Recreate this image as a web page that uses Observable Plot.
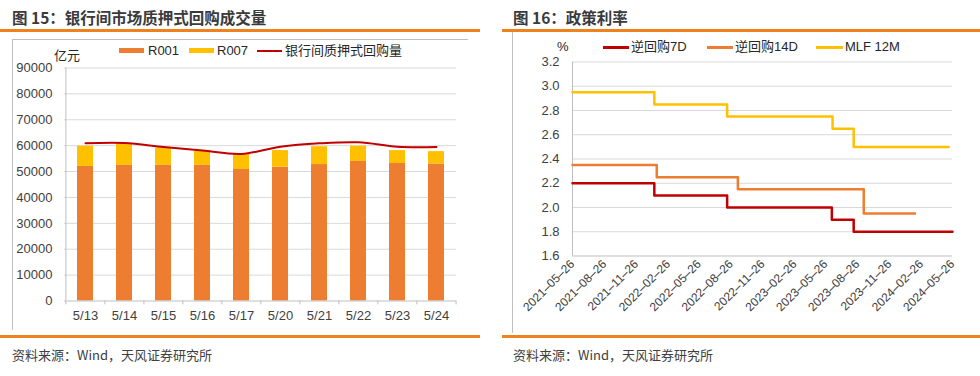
<!DOCTYPE html>
<html><head><meta charset="utf-8">
<script src="https://cdn.jsdelivr.net/npm/d3@7"></script>
<script src="https://cdn.jsdelivr.net/npm/@observablehq/plot@0.6"></script>
<style>
body{margin:0;background:#fff;}
#root{position:relative;width:980px;height:376px;overflow:hidden;font-family:"Liberation Sans",Arial,"Noto Sans CJK SC",sans-serif;color:#404040;}
.abs{position:absolute;white-space:nowrap;}
.title{font-family:"Noto Sans CJK SC",sans-serif;font-weight:bold;font-size:15.5px;color:#3a3a3a;line-height:18px;height:18px;}
.orange{position:absolute;height:2.5px;background:#F0821E;}
.gray{position:absolute;background:#BFBFBF;}
.lg{position:absolute;white-space:nowrap;font-size:13px;line-height:16px;color:#262626;font-family:"Liberation Sans",Arial,"Noto Sans CJK SC",sans-serif;}
.sw{position:absolute;}
.foot{position:absolute;white-space:nowrap;font-family:"Noto Sans CJK SC",sans-serif;font-size:13px;color:#404040;line-height:16px;}
.plot{position:absolute;}
</style></head>
<body><div id="root"></div>
<script>
// ---------- Data: left chart ----------
const days = ["5/13","5/14","5/15","5/16","5/17","5/20","5/21","5/22","5/23","5/24"];
const r001 = [52000,52400,52400,52400,50800,51700,52700,53900,53100,52900];
const r007 = [7800,8300,6700,5700,6000,6400,6900,5900,5000,4800];
const repoTotal = [60900,61000,59500,58100,56800,59600,60900,61300,59600,59500];
const yTicksLeft = [0,10000,20000,30000,40000,50000,60000,70000,80000,90000];

// ---------- Data: right chart ----------
const rr7Dates  = ["2021-05-26","2022-01-17","2022-08-15","2023-06-13","2023-08-15","2024-05-26"];
const rr7Values = [2.20,2.10,2.00,1.90,1.80,1.80];
const rr14Dates  = ["2021-05-26","2022-01-24","2022-09-15","2023-09-13","2024-02-08"];
const rr14Values = [2.35,2.25,2.15,1.95,1.95];
const mlfDates  = ["2021-05-26","2022-01-17","2022-08-15","2023-06-15","2023-08-15","2024-05-15"];
const mlfValues = [2.95,2.85,2.75,2.65,2.50,2.50];
const xTickDates = ["2021-05-26","2021-08-26","2021-11-26","2022-02-26","2022-05-26","2022-08-26","2022-11-26","2023-02-26","2023-05-26","2023-08-26","2023-11-26","2024-02-26","2024-05-26"];
const yTicksRight = [1.6,1.8,2.0,2.2,2.4,2.6,2.8,3.0,3.2];

const root = document.getElementById("root");
function add(html){ root.insertAdjacentHTML("beforeend", html); }

// frames / titles / footers
add(`<div class="abs title" style="left:12px;top:8px">图 15：银行间市场质押式回购成交量</div>`);
add(`<div class="abs title" style="left:513px;top:8px">图 16：政策利率</div>`);
add(`<div class="orange" style="left:0;top:29px;width:480px"></div>`);
add(`<div class="orange" style="left:502px;top:29px;width:478px"></div>`);
add(`<div class="gray" style="left:12px;top:39px;width:456px;height:1px"></div>`);
add(`<div class="gray" style="left:12px;top:39px;width:1px;height:291px"></div>`);
add(`<div class="gray" style="left:512px;top:32px;width:1px;height:301px"></div>`);
add(`<div class="orange" style="left:0;top:335px;width:480px"></div>`);
add(`<div class="orange" style="left:502px;top:335px;width:478px"></div>`);
add(`<div class="foot" style="left:12px;top:347px">资料来源：Wind，天风证券研究所</div>`);
add(`<div class="foot" style="left:513px;top:347px">资料来源：Wind，天风证券研究所</div>`);

// left legend
add(`<div class="lg" style="left:54px;top:48px">亿元</div>`);
add(`<div class="sw" style="left:119px;top:48px;width:25px;height:5px;background:#ED7D31"></div>`);
add(`<div class="lg" style="left:148px;top:43px">R001</div>`);
add(`<div class="sw" style="left:189px;top:48px;width:25px;height:5px;background:#FFC000"></div>`);
add(`<div class="lg" style="left:217px;top:43px">R007</div>`);
add(`<div class="sw" style="left:257px;top:50px;width:25px;height:2px;background:#C00000"></div>`);
add(`<div class="lg" style="left:285px;top:43px">银行间质押式回购量</div>`);

// right legend
add(`<div class="lg" style="left:557px;top:39px">%</div>`);
add(`<div class="sw" style="left:603px;top:46px;width:26px;height:3px;background:#C00000"></div>`);
add(`<div class="lg" style="left:631px;top:39px">逆回购7D</div>`);
add(`<div class="sw" style="left:707px;top:46px;width:26px;height:3px;background:#ED7D31"></div>`);
add(`<div class="lg" style="left:735px;top:39px">逆回购14D</div>`);
add(`<div class="sw" style="left:816px;top:46px;width:27px;height:3px;background:#FFC000"></div>`);
add(`<div class="lg" style="left:845px;top:39px">MLF 12M</div>`);

const font = `"Liberation Sans", Arial, "Noto Sans CJK SC", sans-serif`;

// ---------- Left plot ----------
const W1 = 456, H1 = 290, mL1 = 52, mR1 = 12, mT1 = 27.5, mB1 = 29.5;
const step1 = (W1 - mL1 - mR1) / days.length;
const barRows = days.flatMap((d, i) => [
  {day: d, series: "R001", value: r001[i]},
  {day: d, series: "R007", value: r007[i]}
]);
const lineRows = days.map((d, i) => ({day: d, value: repoTotal[i]}));

const left = Plot.plot({
  width: W1, height: H1, marginLeft: mL1, marginRight: mR1, marginTop: mT1, marginBottom: mB1,
  style: {fontFamily: font, fontSize: "13px", color: "#404040", background: "transparent", overflow: "visible"},
  x: {type: "band", domain: days, paddingInner: 0.59, paddingOuter: 0.295, label: null},
  y: {domain: [0, 90000], label: null},
  color: {domain: ["R001", "R007"], range: ["#ED7D31", "#FFC000"]},
  marks: [
    Plot.ruleY(yTicksLeft.slice(1), {stroke: "#D9D9D9", strokeWidth: 1}),
    Plot.barY(barRows, {x: "day", y: "value", fill: "series"}),
    Plot.lineY(lineRows, {x: "day", y: "value", stroke: "#C00000", strokeWidth: 2, curve: "catmull-rom"}),
    Plot.ruleY([0], {stroke: "#BFBFBF"}),
    Plot.ruleX([days[0]], {dx: -step1 / 2, stroke: "#BFBFBF"}),
    Plot.ruleX(days, {dx: -step1 / 2, y1: 0, y2: -1500, stroke: "#BFBFBF"}),
    Plot.ruleX(days.slice(-1), {dx: step1 / 2, y1: 0, y2: -1500, stroke: "#BFBFBF"}),
    Plot.axisY({ticks: yTicksLeft, tickSize: 0, tickPadding: 12, tickFormat: d3.format("d"), label: null, fill: "#404040"}),
    Plot.axisX({tickSize: 0, tickPadding: 10, label: null, fill: "#404040"})
  ]
});
left.classList.add("plot");
left.style.left = "12px"; left.style.top = "40px";
root.appendChild(left);

// ---------- Right plot ----------
const parse = d3.utcParse("%Y-%m-%d");
const W2 = 467, H2 = 290, mL2 = 59, mR2 = 28, mT2 = 21.5, mB2 = 74.5;
const mk = (dates, vals, s) => dates.map((d, i) => ({date: parse(d), value: vals[i], s}));
const rr7Rows = mk(rr7Dates, rr7Values, "逆回购7D");
const rr14Rows = mk(rr14Dates, rr14Values, "逆回购14D");
const mlfRows = mk(mlfDates, mlfValues, "MLF 12M");
const xStart = parse(xTickDates[0]), xEnd = parse(xTickDates[xTickDates.length - 1]);

const right = Plot.plot({
  width: W2, height: H2, marginLeft: mL2, marginRight: mR2, marginTop: mT2, marginBottom: mB2,
  style: {fontFamily: font, fontSize: "13px", color: "#404040", background: "transparent", overflow: "visible"},
  x: {type: "utc", domain: [xStart, xEnd], label: null},
  y: {domain: [1.6, 3.2], label: null},
  marks: [
    Plot.ruleY(yTicksRight.slice(1), {stroke: "#D9D9D9"}),
    Plot.ruleY([1.6], {stroke: "#BFBFBF"}),
    Plot.ruleX([xStart], {stroke: "#BFBFBF"}),
    Plot.lineY(mlfRows, {x: "date", y: "value", stroke: "#FFC000", strokeWidth: 2.5, curve: "step-after"}),
    Plot.lineY(rr14Rows, {x: "date", y: "value", stroke: "#ED7D31", strokeWidth: 2.5, curve: "step-after"}),
    Plot.lineY(rr7Rows, {x: "date", y: "value", stroke: "#C00000", strokeWidth: 2.5, curve: "step-after"}),
    Plot.axisY({ticks: yTicksRight, tickSize: 0, tickPadding: 13, tickFormat: d3.format(".1f"), label: null, fill: "#404040"}),
    Plot.axisX({ticks: xTickDates.map(parse), tickFormat: d3.utcFormat("%Y–%m–%d"), tickRotate: -45, tickSize: 0, tickPadding: 6, fontSize: 12, label: null, fill: "#404040"})
  ]
});
right.classList.add("plot");
right.style.left = "513px"; right.style.top = "40px";
root.appendChild(right);
</script>
</body></html>
